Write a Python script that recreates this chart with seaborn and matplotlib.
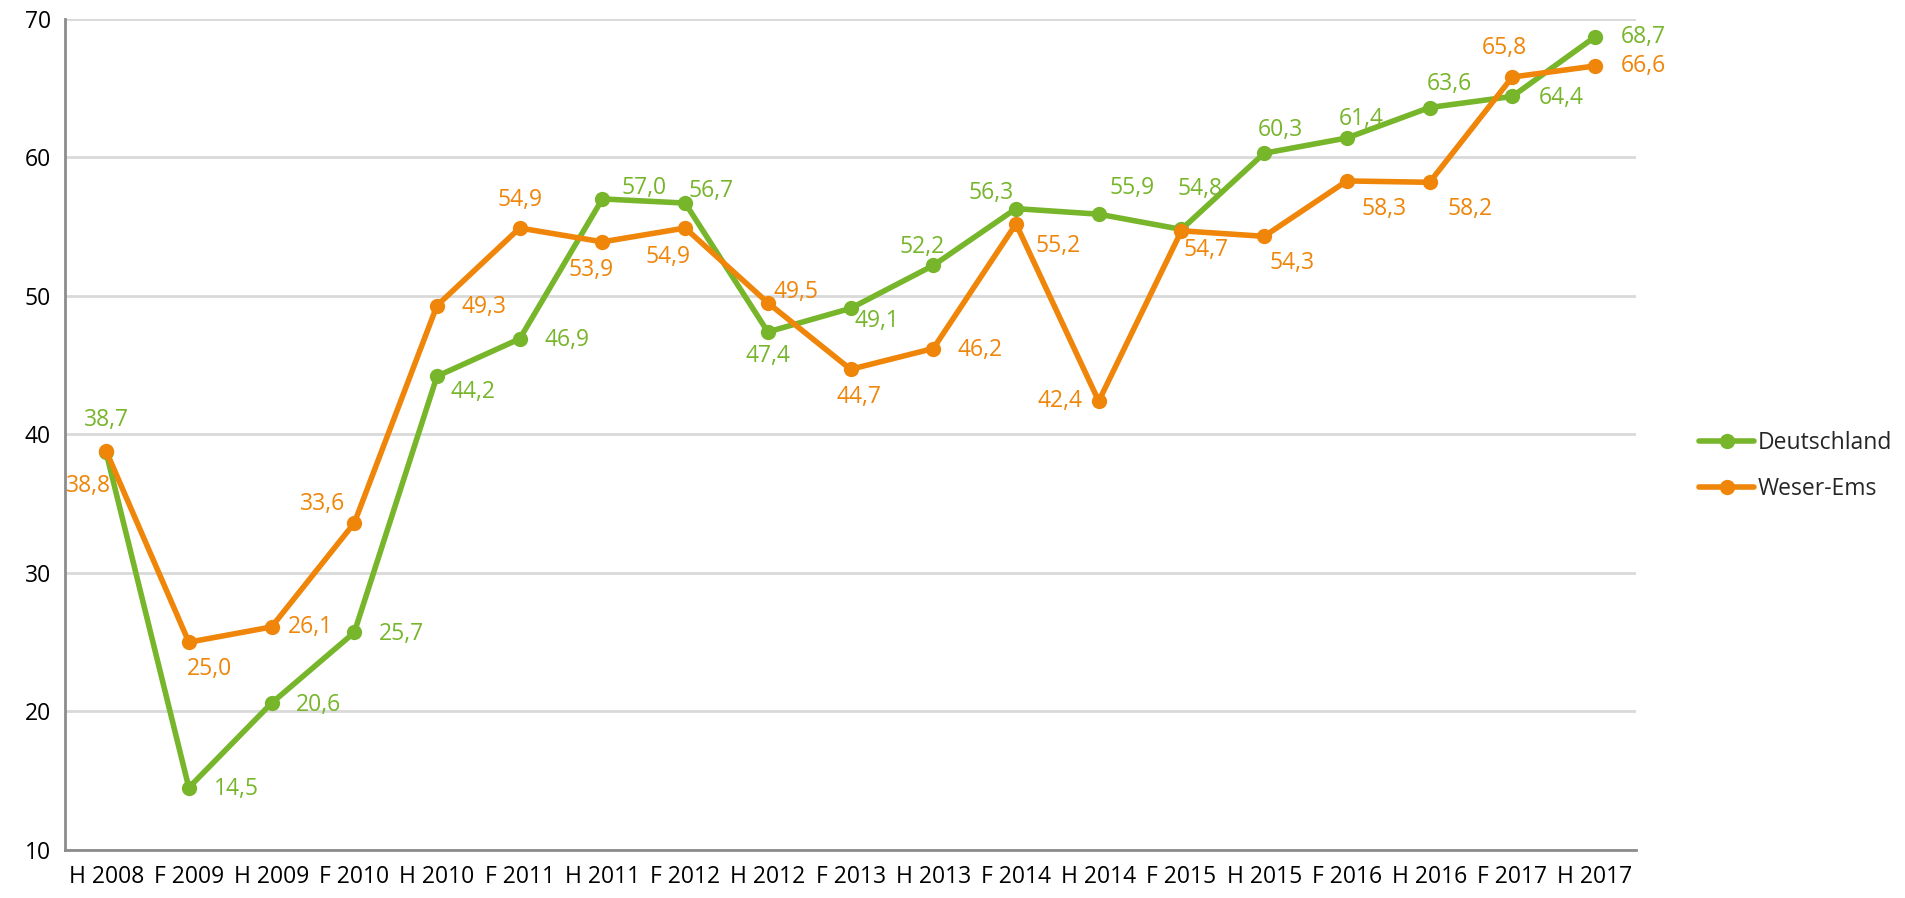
import numpy as np
import pandas as pd
import matplotlib
matplotlib.use("Agg")
import matplotlib.pyplot as plt
import seaborn as sns

# Data
periods = ["H 2008", "F 2009", "H 2009", "F 2010", "H 2010", "F 2011", "H 2011",
           "F 2012", "H 2012", "F 2013", "H 2013", "F 2014", "H 2014", "F 2015",
           "H 2015", "F 2016", "H 2016", "F 2017", "H 2017"]
deutschland = [38.7, 14.5, 20.6, 25.7, 44.2, 46.9, 57.0, 56.7, 47.4, 49.1,
               52.2, 56.3, 55.9, 54.8, 60.3, 61.4, 63.6, 64.4, 68.7]
weser_ems = [38.8, 25.0, 26.1, 33.6, 49.3, 54.9, 53.9, 54.9, 49.5, 44.7,
             46.2, 55.2, 42.4, 54.7, 54.3, 58.3, 58.2, 65.8, 66.6]
series_names = ["Deutschland", "Weser-Ems"]
y_ticks = [10, 20, 30, 40, 50, 60, 70]

# label offsets in points (style only)
offs_de = [(0, 23), (34, -1), (34, -1), (34, -1), (26, -11), (34, -1), (30, 8),
           (19, 9), (0, -17), (19, -9), (-8, 13), (-18, 11), (24, 19), (13, 29),
           (12, 17), (10, 14), (14, 17), (35, -1), (35, 0)]
offs_we = [(-13, -25), (15, -19), (28, 0), (-23, 14), (34, -1), (0, 20), (-8, -20),
           (-12, -21), (20, 8), (6, -20), (34, -1), (30, -16), (-28, 0), (18, -14),
           (20, -19), (27, -20), (29, -19), (-6, 21), (35, 0)]

colors = {"Deutschland": "#77B52B", "Weser-Ems": "#EF8509"}

df = pd.DataFrame({
    "pos": list(range(len(periods))) * 2,
    "value": deutschland + weser_ems,
    "series": [series_names[0]] * len(periods) + [series_names[1]] * len(periods),
})

sns.set_style("white")
plt.rcParams["font.family"] = ["Open Sans", "DejaVu Sans"]
fs = 16.5

fig = plt.figure(figsize=(19.05, 8.98), dpi=100)
ax = fig.add_axes([0.034, 0.0535, 0.825, 0.9255])

sns.lineplot(data=df, x="pos", y="value", hue="series", palette=colors,
             marker="o", markersize=11, markeredgewidth=0, linewidth=4,
             ax=ax, legend=True, zorder=3)

for vals, offs, name in [(deutschland, offs_de, "Deutschland"), (weser_ems, offs_we, "Weser-Ems")]:
    for i, v in enumerate(vals):
        ax.annotate(f"{v:.1f}".replace(".", ","), (i, v), xytext=offs[i],
                    textcoords="offset points", ha="center", va="center",
                    fontsize=fs, color=colors[name], zorder=4)

ax.set_xlim(-0.5, len(periods) - 0.5)
ax.set_ylim(10, 70)
ax.set_yticks(y_ticks)
ax.set_xticks(range(len(periods)))
ax.set_xticklabels(periods)
ax.set_xticks(np.arange(-0.5, len(periods), 1.0), minor=True)
ax.tick_params(axis="x", which="major", length=0, pad=11, labelsize=fs, labelcolor="black")
ax.tick_params(axis="x", which="minor", length=8, width=1.5, color="#8c8c8c", direction="out")
ax.tick_params(axis="y", length=7, width=1.5, color="#8c8c8c", labelsize=fs,
               labelcolor="black", pad=3, direction="out")
ax.yaxis.grid(True, color="#d9d9d9", linewidth=2)
ax.set_axisbelow(True)
ax.set_xlabel("")
ax.set_ylabel("")
for s in ["top", "right"]:
    ax.spines[s].set_visible(False)
for s in ["left", "bottom"]:
    ax.spines[s].set_color("#8c8c8c")
    ax.spines[s].set_linewidth(2)
ax.spines["bottom"].set_zorder(5)

handles, labels = ax.get_legend_handles_labels()
ax.legend(handles, labels, loc="center left", bbox_to_anchor=(0.886, 0.481),
          bbox_transform=fig.transFigure, frameon=False, fontsize=fs,
          handlelength=2.4, handletextpad=0.15, labelspacing=0.95, borderpad=0)

fig.savefig("out.png", dpi=100)
